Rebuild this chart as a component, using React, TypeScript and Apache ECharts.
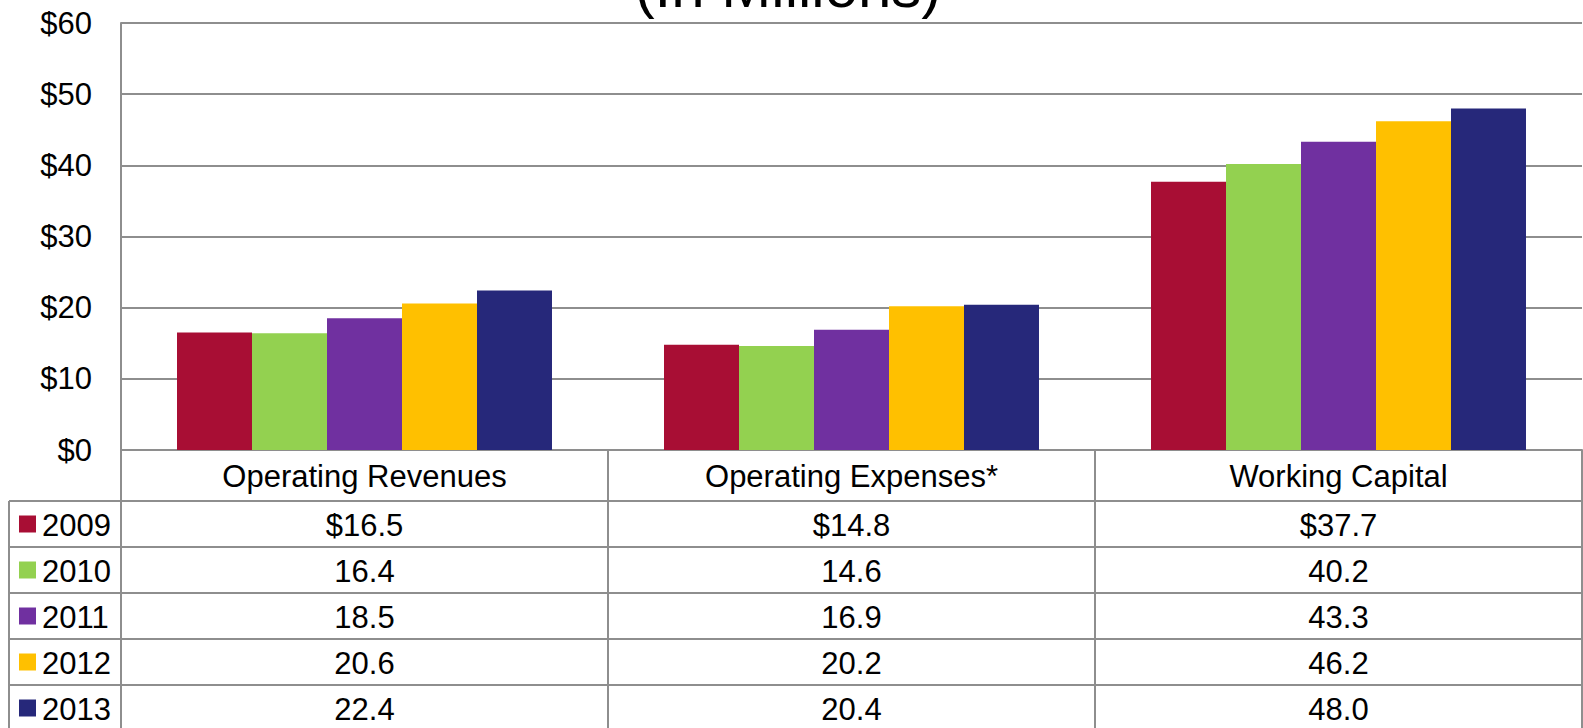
import React, { useEffect, useRef } from "react";
import * as echarts from "echarts";

const categories = ["Operating Revenues", "Operating Expenses*", "Working Capital"];
const years = ["2009", "2010", "2011", "2012", "2013"];
const values2009 = [16.5, 14.8, 37.7];
const values2010 = [16.4, 14.6, 40.2];
const values2011 = [18.5, 16.9, 43.3];
const values2012 = [20.6, 20.2, 46.2];
const values2013 = [22.4, 20.4, 48.0];
const seriesValues = [values2009, values2010, values2011, values2012, values2013];
const colors = ["#A80E34", "#93D150", "#7030A0", "#FFC000", "#26287A"];
const titleText = "(In Millions)";

const W = 1583;
const H = 728;
const GL = 121;
const GR = 1582;
const GT = 23;
const GB = 450;
const HEADER_BOTTOM = 501;
const ROW_H = 46;
const LEG_L = 9;
const FONT = "'Liberation Sans', Arial, sans-serif";
const LINE = "#8e8e8e";

export default function App() {
  const ref = useRef<HTMLDivElement>(null);
  useEffect(() => {
    if (!ref.current) return;
    const chart = echarts.init(ref.current, null, { renderer: "svg" });
    const catW = (GR - GL) / categories.length;
    const graphics: any[] = [];
    // title (cut off at top)
    graphics.push({
      type: "text",
      x: 788,
      y: 16,
      style: {
        text: titleText,
        font: `60px ${FONT}`,
        fill: "#000",
        align: "center",
        verticalAlign: "bottom",
      },
    });
    const bottom = H + 5;
    const vline = (x: number, y1: number, y2: number) => ({
      type: "line",
      shape: { x1: x, y1, x2: x, y2 },
      style: { stroke: LINE, lineWidth: 2 },
    });
    const hline = (y: number, x1: number, x2: number) => ({
      type: "line",
      shape: { x1, y1: y, x2, y2: y },
      style: { stroke: LINE, lineWidth: 2 },
    });
    // vertical separators
    graphics.push(vline(LEG_L, HEADER_BOTTOM, bottom));
    graphics.push(vline(GL, GB, bottom));
    for (let j = 1; j < categories.length; j++) {
      graphics.push(vline(GL + catW * j, GB, bottom));
    }
    graphics.push(vline(GR, GB, bottom));
    // horizontal lines
    for (let i = 0; i < years.length; i++) {
      graphics.push(hline(HEADER_BOTTOM + i * ROW_H, LEG_L, GR));
    }
    // rows
    years.forEach((yr, i) => {
      const cy = HEADER_BOTTOM + i * ROW_H + ROW_H / 2;
      graphics.push({
        type: "rect",
        shape: { x: 19, y: cy - 8.5, width: 17, height: 17 },
        style: { fill: colors[i] },
      });
      graphics.push({
        type: "text",
        x: 42,
        y: cy + 1,
        style: {
          text: yr,
          font: `31px ${FONT}`,
          fill: "#000",
          align: "left",
          verticalAlign: "middle",
        },
      });
      seriesValues[i].forEach((v, j) => {
        graphics.push({
          type: "text",
          x: GL + catW * (j + 0.5),
          y: cy + 1,
          style: {
            text: (i === 0 ? "$" : "") + v.toFixed(1),
            font: `31px ${FONT}`,
            fill: "#000",
            align: "center",
            verticalAlign: "middle",
          },
        });
      });
    });

    chart.setOption({
      animation: false,
      backgroundColor: "#fff",
      textStyle: { fontFamily: FONT },
      grid: { left: GL, right: W - GR, top: GT, bottom: H - GB, containLabel: false },
      xAxis: {
        type: "category",
        data: categories,
        axisLine: { show: true, lineStyle: { color: LINE, width: 2 } },
        axisTick: { show: false },
        axisLabel: {
          color: "#000",
          fontSize: 31,
          fontFamily: FONT,
          margin: 10,
          lineHeight: 32,
          interval: 0,
        },
      },
      yAxis: {
        type: "value",
        min: 0,
        max: 60,
        interval: 10,
        axisLine: { show: true, lineStyle: { color: LINE, width: 2 } },
        axisTick: { show: false },
        axisLabel: {
          color: "#000",
          fontSize: 31,
          fontFamily: FONT,
          margin: 29,
          formatter: (v: number) => "$" + v,
        },
        splitLine: { show: true, lineStyle: { color: LINE, width: 2 } },
      },
      series: years.map((yr, i) => ({
        name: yr,
        type: "bar",
        data: seriesValues[i],
        barGap: "0%",
        barCategoryGap: "23%",
        itemStyle: { color: colors[i] },
      })),
      graphic: graphics,
    });
    return () => chart.dispose();
  }, []);
  return (
    <div
      ref={ref}
      style={{ position: "fixed", left: 0, top: 0, width: W, height: H, background: "#fff" }}
    />
  );
}
